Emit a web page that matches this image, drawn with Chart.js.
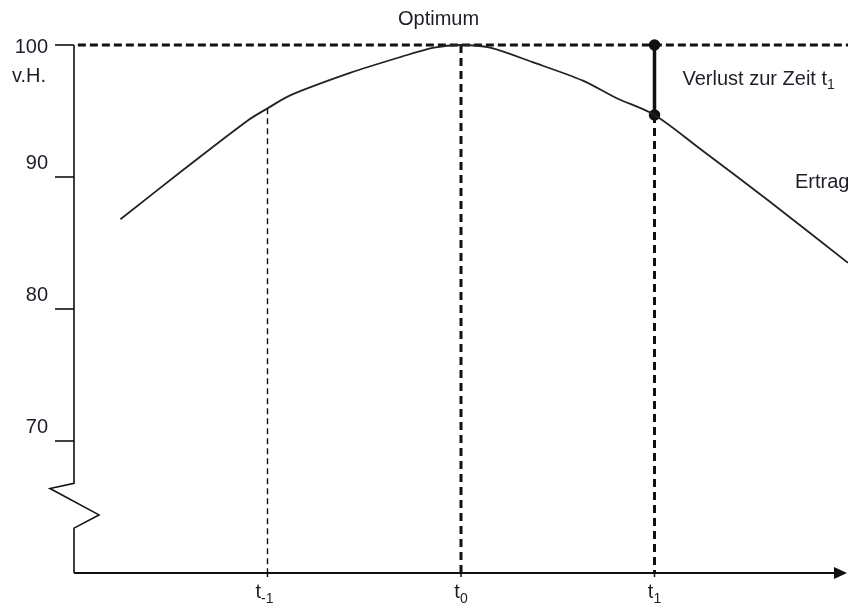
<!DOCTYPE html>
<html lang="de">
<head>
<meta charset="UTF-8">
<title>Ertrag und Optimum</title>
<script src="https://cdn.jsdelivr.net/npm/chart.js@4.4.0/dist/chart.umd.min.js"></script>
<style>
  body { margin: 0; background: #fff; }
  canvas { display: block; }
</style>
</head>
<body>
<canvas id="chart" width="848" height="607"></canvas>
<script>
// Ertragskurve (Zeit relativ zu t0, Ertrag in v.H.)
const ertragT = [-1.76, -1.43, -1.10, -1.0, -0.88, -0.57, -0.31, -0.14, 0, 0.15, 0.37, 0.63, 0.80, 1.0, 1.23, 1.59, 2.0];
const ertragV = [86.8, 90.6, 94.3, 95.2, 96.2, 97.9, 99.1, 99.8, 100, 99.8, 98.7, 97.3, 96.0, 94.7, 92.2, 88.2, 83.5];

const optimum = 100;
const yTicks = [100, 90, 80, 70];
const xTicks = [-1, 0, 1];
const xTickSubs = ['-1', '0', '1'];

const valueAt = t => ertragV[ertragT.indexOf(t)];
const FONT = '"Liberation Sans", Arial, sans-serif';
const INK = '#1e1e28';

// Achsen, Bruchzeichen und Beschriftungen
const axesPlugin = {
  id: 'axes',
  afterDraw(chart) {
    const ctx = chart.ctx;
    const xs = chart.scales.x, ys = chart.scales.y;
    const x0 = xs.left, yB = ys.bottom;
    ctx.save();
    ctx.strokeStyle = '#111';
    ctx.fillStyle = '#111';
    ctx.lineWidth = 1.6;

    // y-Achse mit Bruch
    const zz = [66.8, 66.4, 64.4, 63.4].map(v => ys.getPixelForValue(v));
    ctx.beginPath();
    ctx.moveTo(x0, ys.getPixelForValue(100));
    ctx.lineTo(x0, zz[0]);
    ctx.lineTo(x0 - 24, zz[1]);
    ctx.lineTo(x0 + 25, zz[2]);
    ctx.lineTo(x0, zz[3]);
    ctx.lineTo(x0, yB);
    ctx.stroke();

    // y-Ticks
    yTicks.forEach(v => {
      const y = ys.getPixelForValue(v);
      ctx.beginPath();
      ctx.moveTo(x0 - 19, y);
      ctx.lineTo(x0, y);
      ctx.stroke();
    });

    // x-Achse mit Pfeil
    ctx.lineWidth = 2;
    ctx.beginPath();
    ctx.moveTo(x0, yB);
    ctx.lineTo(xs.right - 10, yB);
    ctx.stroke();
    ctx.beginPath();
    ctx.moveTo(xs.right - 1, yB);
    ctx.lineTo(xs.right - 14, yB - 6);
    ctx.lineTo(xs.right - 14, yB + 6);
    ctx.closePath();
    ctx.fill();

    ctx.lineWidth = 1.5;
    xTicks.forEach(t => {
      const x = xs.getPixelForValue(t);
      ctx.beginPath();
      ctx.moveTo(x, yB);
      ctx.lineTo(x, yB + 4);
      ctx.stroke();
    });

    // Texte
    ctx.fillStyle = INK;
    ctx.font = '20px ' + FONT;
    ctx.textAlign = 'right';
    ctx.textBaseline = 'middle';
    yTicks.forEach((v, i) => {
      const y = ys.getPixelForValue(v);
      ctx.fillText(String(v), 48, i === 0 ? y + 2 : y - 14);
    });
    ctx.textAlign = 'left';
    ctx.fillText('v.H.', 12, ys.getPixelForValue(100) + 31);

    ctx.textBaseline = 'alphabetic';
    xTicks.forEach((t, i) => {
      const x = xs.getPixelForValue(t);
      ctx.font = '20px ' + FONT;
      const w1 = ctx.measureText('t').width;
      ctx.font = '14px ' + FONT;
      const w2 = ctx.measureText(xTickSubs[i]).width;
      const left = x - (w1 + w2) / 2 - (i === 0 ? 3 : 0);
      ctx.font = '20px ' + FONT;
      ctx.fillText('t', left, yB + 25);
      ctx.font = '14px ' + FONT;
      ctx.fillText(xTickSubs[i], left + w1, yB + 30);
    });

    ctx.font = '20px ' + FONT;
    ctx.fillText('Optimum', 398, 25);
    const vx = xs.getPixelForValue(1) + 28;
    ctx.fillText('Verlust zur Zeit t', vx, 85);
    const vw = ctx.measureText('Verlust zur Zeit t').width;
    ctx.font = '14px ' + FONT;
    ctx.fillText('1', vx + vw, 89);
    ctx.font = '20px ' + FONT;
    ctx.fillText('Ertrag', 795, 188);
    ctx.restore();
  }
};

const line = (data, width, dash, extra) => Object.assign({
  data, showLine: true, borderColor: '#111', backgroundColor: '#111',
  borderWidth: width, borderDash: dash, pointRadius: 0, clip: false
}, extra || {});

new Chart(document.getElementById('chart'), {
  type: 'scatter',
  data: {
    datasets: [
      line(ertragT.map((t, i) => ({ x: t, y: ertragV[i] })), 1.8, [], { tension: 0.3, borderColor: '#222' }),
      line([{ x: -1.98, y: optimum }, { x: 2, y: optimum }], 3, [8, 4]),
      line([{ x: -1, y: valueAt(-1) }, { x: -1, y: 60 }], 1.4, [6, 4]),
      line([{ x: 0, y: optimum }, { x: 0, y: 60 }], 3, [8, 5]),
      line([{ x: 1, y: valueAt(1) }, { x: 1, y: 60 }], 3, [8, 5]),
      line([{ x: 1, y: optimum }, { x: 1, y: valueAt(1) }], 3.5, [], { pointRadius: 4 })
    ]
  },
  options: {
    responsive: false,
    animation: false,
    devicePixelRatio: 1,
    layout: { autoPadding: false, padding: { left: 74, right: 0, top: 45, bottom: 34 } },
    plugins: { legend: { display: false }, tooltip: { enabled: false } },
    scales: {
      x: { type: 'linear', min: -2, max: 2, display: false },
      y: { type: 'linear', min: 60, max: 100, display: false }
    }
  },
  plugins: [axesPlugin]
});
</script>
</body>
</html>
